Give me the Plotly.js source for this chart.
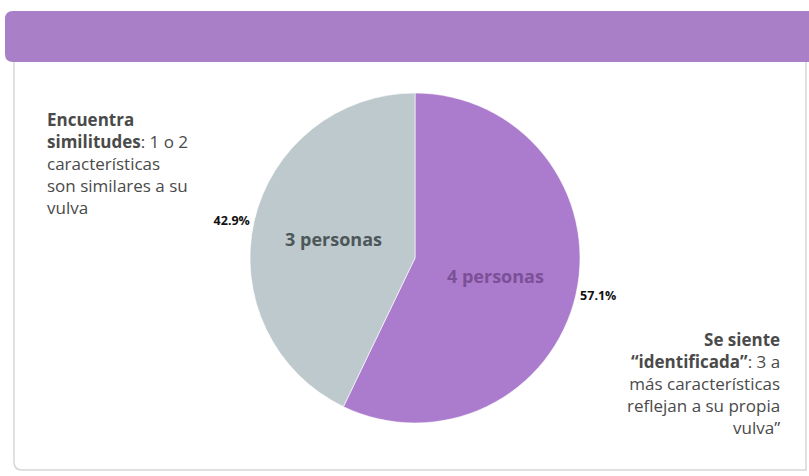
<!DOCTYPE html>
<html>
<head>
<meta charset="utf-8">
<script src="https://cdn.plot.ly/plotly-3.0.1.min.js"></script>
<style>html,body{margin:0;padding:0;background:#fff;}#chart{width:809px;height:476px;}</style>
</head>
<body>
<div id="chart"></div>
<script>
// ---- data ----
const categories = ["Se siente “identificada”", "Encuentra similitudes"];
const personas = [4, 3];
const insideLabels = ["4 personas", "3 personas"];
const sliceColors = ["#ab7bcd", "#bdc9cc"];
const insideTextColors = ["#7b5096", "#4d575a"];
const leftNote = "<b>Encuentra</b><br><b>similitudes</b>: 1 o 2<br>características<br>son similares a su<br>vulva";
const rightNote = "<b>Se siente</b><br><b>“identificada”</b>: 3 a<br>más características<br>reflejan a su propia<br>vulva”";

const W = 809, H = 476;
const px = x => x / W;
const py = y => 1 - y / H;
const FONT = "Open Sans, sans-serif";

const domain = {x: [px(250), px(580)], y: [py(423), py(93)]};

const traces = [
  {
    type: "pie",
    values: personas,
    labels: categories,
    text: insideLabels,
    sort: false,
    direction: "clockwise",
    rotation: 0,
    domain: domain,
    marker: {colors: sliceColors, line: {color: "rgba(255,255,255,0.6)", width: 1}},
    textinfo: "text",
    textposition: "inside",
    insidetextorientation: "horizontal",
    insidetextfont: {family: FONT, size: 18, color: insideTextColors, weight: "bold"},
    hoverinfo: "skip",
    showlegend: false
  },
  {
    type: "pie",
    values: personas,
    labels: categories,
    sort: false,
    direction: "clockwise",
    rotation: 0,
    domain: domain,
    marker: {colors: ["rgba(0,0,0,0)", "rgba(0,0,0,0)"]},
    texttemplate: "%{percent:.1%}",
    textposition: "outside",
    outsidetextfont: {family: FONT, size: 12.5, color: "#111", weight: "bold"},
    automargin: false,
    hoverinfo: "skip",
    showlegend: false
  }
];

function rr(x0, y0, x1, y1, r) {
  return `M ${px(x0)} ${py(y0 + r)} Q ${px(x0)} ${py(y0)} ${px(x0 + r)} ${py(y0)} L ${px(x1)} ${py(y0)} L ${px(x1)} ${py(y1)} L ${px(x0 + r)} ${py(y1)} Q ${px(x0)} ${py(y1)} ${px(x0)} ${py(y1 - r)} Z`;
}
function cardPath(x0, y0, x1, y1, r) {
  return `M ${px(x0)} ${py(y0)} L ${px(x0)} ${py(y1 - r)} Q ${px(x0)} ${py(y1)} ${px(x0 + r)} ${py(y1)} L ${px(x1)} ${py(y1)} L ${px(x1)} ${py(y0)}`;
}

const layout = {
  width: W, height: H,
  margin: {l: 0, r: 0, t: 0, b: 0},
  paper_bgcolor: "#ffffff",
  showlegend: false,
  shapes: [
    {type: "path", xref: "paper", yref: "paper", path: cardPath(14, 60, 806, 470, 8),
     line: {color: "#d6d6d6", width: 1.5}, layer: "below"},
    {type: "path", xref: "paper", yref: "paper", path: rr(5, 11, 812, 62, 8),
     fillcolor: "#a97fc8", line: {width: 0}, layer: "below"}
  ],
  annotations: [
    {xref: "paper", yref: "paper", x: px(45), y: py(106), xanchor: "left", yanchor: "top",
     align: "left", showarrow: false, text: leftNote,
     font: {family: FONT, size: 17, color: "#4a4a4a"}},
    {xref: "paper", yref: "paper", x: px(782), y: py(326), xanchor: "right", yanchor: "top",
     align: "right", showarrow: false, text: rightNote,
     font: {family: FONT, size: 17, color: "#4a4a4a"}}
  ]
};

Plotly.newPlot("chart", traces, layout, {displayModeBar: false, staticPlot: true});
</script>
</body>
</html>
